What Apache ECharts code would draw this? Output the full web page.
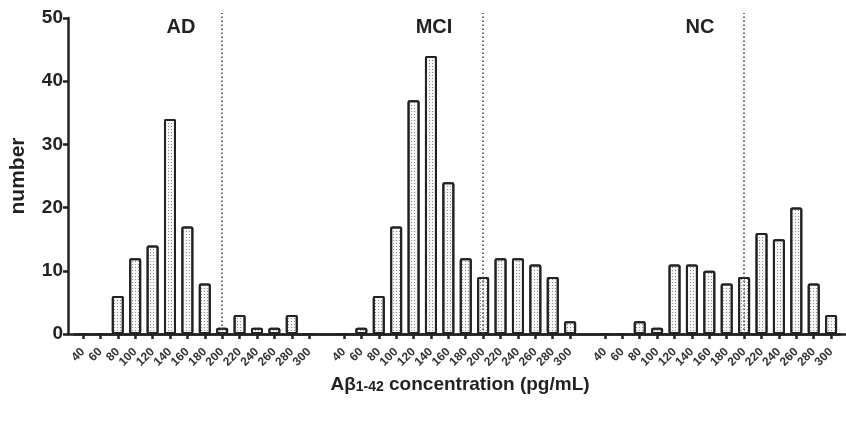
<!DOCTYPE html>
<html>
<head>
<meta charset="utf-8">
<script src="https://cdn.jsdelivr.net/npm/echarts@6/dist/echarts.min.js"></script>
<style>
  html, body { margin: 0; padding: 0; background: #fff; }
  #main { width: 846px; height: 431px; }
</style>
</head>
<body>
<div id="main"></div>
<script>
// concentration bins (pg/mL), same for every group
const concLabels = ['40', '60', '80', '100', '120', '140', '160', '180', '200', '220', '240', '260', '280', '300'];
const groupNames = ['AD', 'MCI', 'NC'];
const adCounts = [0, 0, 6, 12, 14, 34, 17, 8, 1, 3, 1, 1, 3, 0];
const mciCounts = [0, 1, 6, 17, 37, 44, 24, 12, 9, 12, 12, 11, 9, 2];
const ncCounts = [0, 0, 2, 1, 11, 11, 10, 8, 9, 16, 15, 20, 8, 3];
const cutoff = '200';
const cutTop = 50.8;

// one blank slot between groups
const categories = concLabels.concat([''], concLabels, [''], concLabels);
const barData = adCounts.concat([null], mciCounts, [null], ncCounts);
const cutIdx = [0, 1, 2].map(g => g * (concLabels.length + 1) + concLabels.indexOf(cutoff));

const font = 'Liberation Sans, Arial, sans-serif';
const ink = '#222';
const pxPerUnit = (431 - 97 - 18) / 50;

let chart = echarts.init(document.getElementById('main'));
let groupTitle = (text, x) => ({
  text: text, left: x, top: 12, textAlign: 'center',
  textStyle: { fontSize: 20, fontWeight: 'bold', fontFamily: font, color: ink }
});
let option = {
  animation: false,
  backgroundColor: '#fff',
  title: [
    groupTitle(groupNames[0], 176),
    groupTitle(groupNames[1], 429),
    groupTitle(groupNames[2], 695),
    {
      text: '{a|Aβ}{s|1-42}{a| concentration (pg/mL)}',
      left: 455, top: 365, textAlign: 'center',
      textStyle: {
        rich: {
          a: { fontSize: 19, fontWeight: 'bold', fontFamily: font, color: ink, lineHeight: 24, verticalAlign: 'bottom' },
          s: { fontSize: 14, fontWeight: 'bold', fontFamily: font, color: ink, lineHeight: 14, verticalAlign: 'bottom' }
        }
      }
    }
  ],
  grid: [
    { left: 68, right: 0, top: 18, bottom: 97 },
    // same scale as grid 0, one unit taller so the cut-off lines poke above 50
    { left: 74.3, right: 6.2, top: 18 - pxPerUnit, bottom: 97 }
  ],
  xAxis: [
    {
      // only for the long baseline
      type: 'value', gridIndex: 0, min: 0, max: 1,
      axisLine: { show: true, onZero: false, lineStyle: { color: ink, width: 2.5 } },
      axisTick: { show: false }, axisLabel: { show: false }, splitLine: { show: false }
    },
    {
      type: 'category', gridIndex: 1, data: categories,
      axisLine: { show: true, onZero: false, lineStyle: { color: ink, width: 2.5 } },
      axisTick: {
        show: true, alignWithLabel: true, length: 5,
        interval: (i, v) => v !== '',
        lineStyle: { color: ink, width: 2.5 }
      },
      axisLabel: {
        interval: (i, v) => v !== '',
        showMinLabel: true, showMaxLabel: true, hideOverlap: false,
        rotate: 45, margin: 16,
        fontSize: 12, fontWeight: 'bold', fontFamily: font, color: '#333'
      }
    }
  ],
  yAxis: [
    {
      type: 'value', gridIndex: 0, min: 0, max: 50, interval: 10,
      name: 'number', nameLocation: 'middle', nameGap: 39,
      nameTextStyle: { fontSize: 21, fontWeight: 'bold', fontFamily: font, color: ink },
      axisLine: { show: true, lineStyle: { color: ink, width: 2.5 } },
      axisTick: { show: true, length: 5, lineStyle: { color: ink, width: 2.5 } },
      axisLabel: { margin: 5, fontSize: 19, fontWeight: 'bold', fontFamily: font, color: ink },
      splitLine: { show: false }
    },
    {
      type: 'value', gridIndex: 1, min: 0, max: 51, show: false
    }
  ],
  series: [
    {
      type: 'bar', xAxisIndex: 1, yAxisIndex: 1,
      data: barData,
      barWidth: 12,
      itemStyle: {
        color: '#f7f7f7',
        borderColor: ink,
        borderWidth: 2,
        borderRadius: 1,
        decal: {
          symbol: 'rect', symbolSize: 1,
          dashArrayX: [1, 2], dashArrayY: [1, 2],
          rotation: 0, color: '#8c8c8c'
        }
      },
      markLine: {
        silent: true,
        symbol: ['none', 'none'],
        label: { show: false },
        lineStyle: { type: [1.6, 2.4], color: '#444', width: 1.6 },
        data: cutIdx.map(i => [{ coord: [i, 0] }, { coord: [i, cutTop] }])
      }
    }
  ]
};
chart.setOption(option);
</script>
</body>
</html>
